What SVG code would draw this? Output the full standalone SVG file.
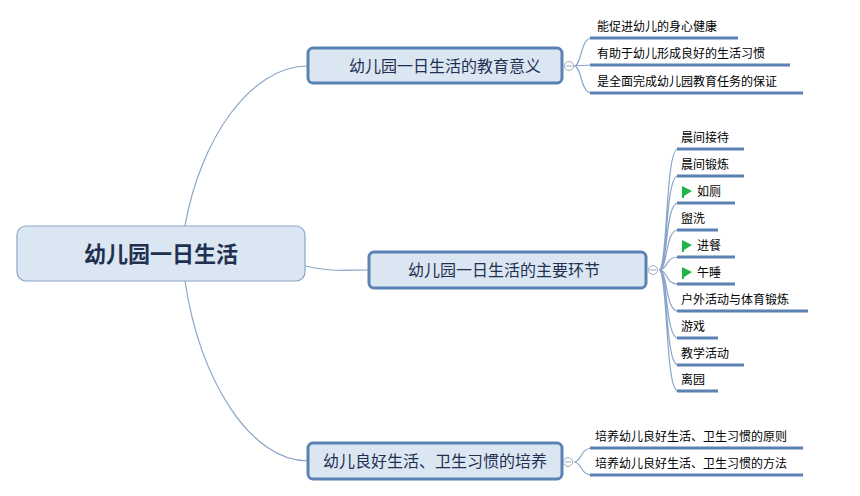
<svg xmlns="http://www.w3.org/2000/svg" width="860" height="496" viewBox="0 0 860 496">
<style>
.c{fill:none;stroke:#8aa5c8;stroke-width:1.2}
.u{stroke:#5b82b3;stroke-width:3}
.b{fill:#dbe6f3;stroke:#5b82b3;stroke-width:3}
.t{font-family:"Noto Sans CJK SC",sans-serif;fill:#1f3050}
.l{font-family:"Noto Sans CJK SC",sans-serif;font-size:12px;fill:#000}
.k{fill:#fff;stroke:#9aaabb;stroke-width:1}
.f{fill:#1fb34a}
</style>
<rect width="860" height="496" fill="#fff"/>
<g id="connectors">
<path class="c" d="M185,226 C200,140 250,66 308,66"/>
<path class="c" d="M185,281 C200,380 250,461 308,461"/>
<path class="c" d="M305,266 C330,272 345,270 369,270"/>
<path class="c" d="M574,66 C582,66 580,38 592,38 M574,66 L592,65 M574,66 C582,66 580,93 592,93"/>
<path class="c" d="M659,270 C668,270 665,149 678,149 M659,270 C668,270 665,176 678,176 M659,270 C668,270 665,203 678,203 M659,270 C668,270 665,230 678,230 M659,270 C668,270 665,257 678,257 M659,270 C668,270 665,284 678,284 M659,270 C668,270 665,311 678,311 M659,270 C668,270 665,338 678,338 M659,270 C668,270 665,365 678,365 M659,270 C668,270 665,391 678,391"/>
<path class="c" d="M574,462 C582,462 580,448 592,448 M574,462 C582,462 580,475 592,475"/>
</g>
<g id="root"><rect x="17" y="226" width="288" height="55" rx="9" fill="#dbe6f3" stroke="#8aa5c8" stroke-width="1.2"/><text class="t" x="161" y="262" font-size="22" font-weight="bold" text-anchor="middle" fill="#2f4d75">幼儿园一日生活</text></g>
<g id="b1"><rect class="b" x="308" y="48" width="254" height="35" rx="5"/><text class="t" x="445" y="72" font-size="16" text-anchor="middle">幼儿园一日生活的教育意义</text><circle class="k" cx="569" cy="66" r="4.5"/><line x1="566" y1="66" x2="572" y2="66" stroke="#9aaabb"/></g>
<g id="b2"><rect class="b" x="369" y="252" width="277" height="36" rx="5"/><text class="t" x="504" y="276" font-size="16" text-anchor="middle">幼儿园一日生活的主要环节</text><circle class="k" cx="653" cy="270" r="4.5"/><line x1="650" y1="270" x2="656" y2="270" stroke="#9aaabb"/></g>
<g id="b3"><rect class="b" x="308" y="443" width="254" height="36" rx="5"/><text class="t" x="435" y="467" font-size="16" text-anchor="middle">幼儿良好生活、卫生习惯的培养</text><circle class="k" cx="568" cy="462" r="4.5"/><line x1="565" y1="462" x2="571" y2="462" stroke="#9aaabb"/></g>
<g id="leaves1">
<line class="u" x1="590" y1="38" x2="738" y2="38"/><text class="l" x="597" y="31">能促进幼儿的身心健康</text>
<line class="u" x1="590" y1="65" x2="790" y2="65"/><text class="l" x="597" y="58">有助于幼儿形成良好的生活习惯</text>
<line class="u" x1="590" y1="93" x2="803" y2="93"/><text class="l" x="597" y="86">是全面完成幼儿园教育任务的保证</text>
</g>
<g id="leaves2">
<line class="u" x1="677" y1="149" x2="744" y2="149"/><text class="l" x="681" y="142">晨间接待</text>
<line class="u" x1="677" y1="176" x2="744" y2="176"/><text class="l" x="681" y="169">晨间锻炼</text>
<line class="u" x1="677" y1="203" x2="735" y2="203"/><path class="f" d="M682,186 L692,191 L684,196 L684,198 L682,198Z"/><text class="l" x="697" y="196">如厕</text>
<line class="u" x1="677" y1="230" x2="718" y2="230"/><text class="l" x="681" y="223">盥洗</text>
<line class="u" x1="677" y1="257" x2="735" y2="257"/><path class="f" d="M682,240 L692,245 L684,250 L684,252 L682,252Z"/><text class="l" x="697" y="250">进餐</text>
<line class="u" x1="677" y1="284" x2="735" y2="284"/><path class="f" d="M682,267 L692,272 L684,277 L684,279 L682,279Z"/><text class="l" x="697" y="277">午睡</text>
<line class="u" x1="677" y1="311" x2="808" y2="311"/><text class="l" x="681" y="304">户外活动与体育锻炼</text>
<line class="u" x1="677" y1="338" x2="718" y2="338"/><text class="l" x="681" y="331">游戏</text>
<line class="u" x1="677" y1="365" x2="744" y2="365"/><text class="l" x="681" y="358">教学活动</text>
<line class="u" x1="677" y1="391" x2="718" y2="391"/><text class="l" x="681" y="384">离园</text>
</g>
<g id="leaves3">
<line class="u" x1="590" y1="448" x2="803" y2="448"/><text class="l" x="595" y="441">培养幼儿良好生活、卫生习惯的原则</text>
<line class="u" x1="590" y1="475" x2="803" y2="475"/><text class="l" x="595" y="468">培养幼儿良好生活、卫生习惯的方法</text>
</g>
</svg>
